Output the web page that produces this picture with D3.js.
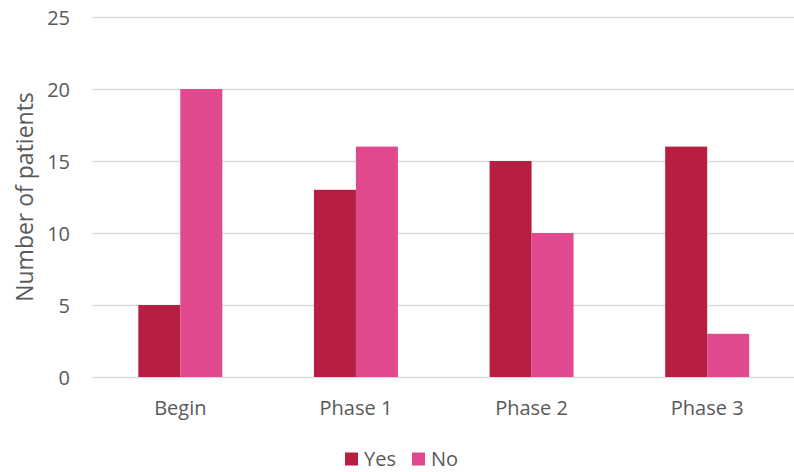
<!DOCTYPE html>
<html>
<head>
<meta charset="utf-8">
<script src="https://cdn.jsdelivr.net/npm/d3@7"></script>
<style>
  html, body { margin: 0; padding: 0; background: #fff; }
  svg { display: block; font-family: "Open Sans", "Lato", sans-serif; }
</style>
</head>
<body>
<svg id="chart" width="794" height="472"></svg>
<script>
// Patient counts per phase
const categories = ["Begin", "Phase 1", "Phase 2", "Phase 3"];
const seriesNames = ["Yes", "No"];
const yesValues = [5, 13, 15, 16];
const noValues = [20, 16, 10, 3];
const yTicks = [0, 5, 10, 15, 20, 25];
const colors = { Yes: "#B71E41", No: "#E0498E" };

const svg = d3.select("#chart");
const W = 794, H = 472;
const plot = { left: 92.5, right: 795, top: 17, bottom: 377 };
const textColor = "#595959";
const fontFamily = "'Open Sans', Lato, sans-serif";

const x = d3.scaleBand().domain(categories).range([plot.left, plot.right]).paddingInner(0).paddingOuter(0);
const groupWidth = 84;
const xInner = d3.scaleBand().domain(seriesNames).range([0, groupWidth]);
const groupOffset = (x.bandwidth() - groupWidth) / 2;

const y = d3.scaleLinear().domain([0, 25]).range([plot.bottom, plot.top]);

// Horizontal gridlines
svg.append("g")
  .selectAll("line")
  .data(yTicks)
  .join("line")
  .attr("x1", plot.left)
  .attr("x2", W)
  .attr("y1", d => Math.round(y(d)) + 0.5)
  .attr("y2", d => Math.round(y(d)) + 0.5)
  .attr("stroke", "#D9D9D9")
  .attr("stroke-width", 1.3);

// Y axis tick labels
const yAxis = d3.axisLeft(y).tickValues(yTicks).tickSize(0).tickPadding(0);
const gy = svg.append("g").attr("transform", "translate(70,0)").call(yAxis);
gy.select(".domain").remove();
gy.selectAll("text")
  .attr("fill", textColor)
  .attr("font-size", 20)
  .attr("font-family", fontFamily)
  .attr("dy", "0.36em");

// Bars
const rows = categories.map((c, i) => ({ cat: c, Yes: yesValues[i], No: noValues[i] }));
const groups = svg.append("g")
  .selectAll("g")
  .data(rows)
  .join("g")
  .attr("transform", d => `translate(${x(d.cat) + groupOffset},0)`);

groups.selectAll("rect")
  .data(d => seriesNames.map(s => ({ s, v: d[s] })))
  .join("rect")
  .attr("x", d => xInner(d.s))
  .attr("width", xInner.bandwidth())
  .attr("y", d => y(d.v))
  .attr("height", d => y(0) - y(d.v))
  .attr("fill", d => colors[d.s]);

// X axis category labels
const xAxis = d3.axisBottom(x).tickSize(0).tickPadding(0);
const gx = svg.append("g").attr("transform", "translate(0,415)").call(xAxis);
gx.select(".domain").remove();
gx.selectAll("text")
  .attr("fill", textColor)
  .attr("font-size", 20)
  .attr("font-family", fontFamily)
  .attr("y", 0)
  .attr("dy", 0);

// Y axis title
svg.append("text")
  .attr("transform", `translate(33,${(plot.top + plot.bottom) / 2}) rotate(-90)`)
  .attr("text-anchor", "middle")
  .attr("fill", textColor)
  .attr("font-size", 23)
  .attr("font-family", fontFamily)
  .text("Number of patients");

// Legend
const legendItems = [
  { name: "Yes", x: 345 },
  { name: "No", x: 412 }
];
const legend = svg.append("g");
legendItems.forEach(it => {
  legend.append("rect")
    .attr("x", it.x).attr("y", 452.5)
    .attr("width", 13).attr("height", 13)
    .attr("fill", colors[it.name]);
  legend.append("text")
    .attr("x", it.x + 19).attr("y", 466)
    .attr("fill", textColor)
    .attr("font-size", 20)
    .attr("font-family", fontFamily)
    .text(it.name);
});
</script>
</body>
</html>
